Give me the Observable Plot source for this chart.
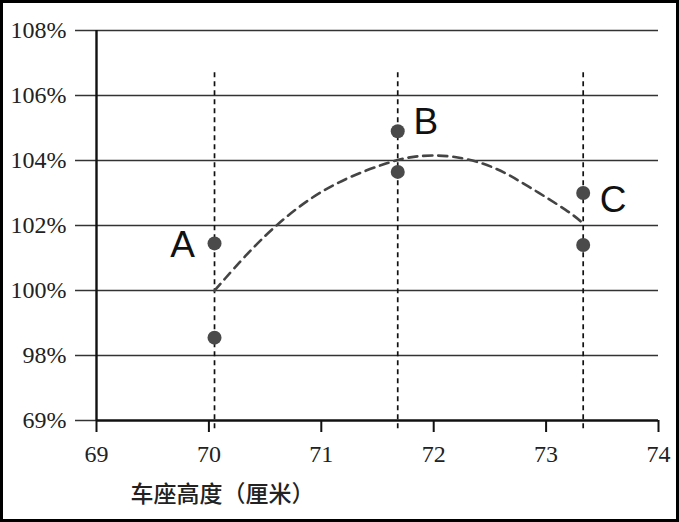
<!DOCTYPE html>
<html>
<head>
<meta charset="utf-8">
<script src="https://cdn.jsdelivr.net/npm/d3@7"></script>
<script src="https://cdn.jsdelivr.net/npm/@observablehq/plot@0.6"></script>
<style>
  html, body { margin: 0; padding: 0; background: #fff; }
  #chart svg { display: block; outline: 3px solid #000; outline-offset: -3px; background: #fff; }
</style>
</head>
<body>
<div id="chart"></div>
<script>
// ---- data ----
const groups = ["A", "B", "C"];
const groupX = [70.05, 71.68, 73.33];
const upperY = [101.45, 104.9, 103.0];
const lowerY = [98.55, 103.65, 101.4];

const curveX = [70.05, 70.13, 70.31, 70.57, 70.90, 71.23, 71.59, 71.82, 72.15, 72.53, 72.83, 73.22, 73.33];
const curveY = [100.0, 100.31, 101.02, 101.94, 102.86, 103.48, 103.94, 104.15, 104.18, 103.85, 103.23, 102.4, 102.06];

const xTicks = [69, 70, 71, 72, 73, 74];
const yTicks = [96, 98, 100, 102, 104, 106, 108];
const yTickLabels = ["69%", "98%", "100%", "102%", "104%", "106%", "108%"];
const xTitle = "车座高度（厘米）";

// ---- derived tables ----
const points = groups.flatMap((g, i) => [
  {g, x: groupX[i], y: upperY[i]},
  {g, x: groupX[i], y: lowerY[i]}
]);
const labelRows = groups.map((g, i) => ({g, x: groupX[i], y: upperY[i]}));
const curve = curveX.map((x, i) => ({x, y: curveY[i]}));
const yLabelOf = new Map(yTicks.map((v, i) => [v, yTickLabels[i]]));
const labelOffset = {A: [-32, 2], B: [28, -9], C: [30, 7]};

const chart = Plot.plot({
  width: 679,
  height: 522,
  marginLeft: 96,
  marginRight: 21,
  marginTop: 30,
  marginBottom: 102,
  style: {fontFamily: "'Liberation Serif', 'DejaVu Serif', serif", fontSize: "24px", color: "#222", background: "#fff"},
  x: {domain: [69, 74]},
  y: {domain: [96, 108]},
  marks: [
    Plot.ruleY(yTicks.filter(d => d !== 96), {stroke: "#333", strokeWidth: 1.5}),
    Plot.axisY({ticks: yTicks, tickFormat: d => yLabelOf.get(d), tickSize: 21, tickPadding: 9, strokeWidth: 1.5, stroke: "#333", label: null, fontSize: 24}),
    Plot.axisX({ticks: xTicks, tickFormat: d => String(d), tickSize: 12, tickPadding: 12, strokeWidth: 2, stroke: "#111", label: null, fontSize: 24}),
    Plot.ruleY([96], {stroke: "#111", strokeWidth: 2.4}),
    Plot.ruleX([69], {y1: 108, y2: 96, stroke: "#111", strokeWidth: 2.4}),
    Plot.ruleX(groupX, {y1: 106.7, y2: 95.62, stroke: "#111", strokeWidth: 1.7, strokeDasharray: "5,4", clip: false}),
    Plot.line(curve, {x: "x", y: "y", curve: "basis", stroke: "#444", strokeWidth: 2.6, strokeDasharray: "9,6"}),
    Plot.dot(points, {x: "x", y: "y", r: 7, fill: "#4a4a4a", stroke: "none"}),
    ...groups.map(g => Plot.text(labelRows.filter(d => d.g === g), {
      x: "x", y: "y", text: "g",
      dx: labelOffset[g][0], dy: labelOffset[g][1],
      lineAnchor: "middle",
      fontFamily: "'Liberation Sans', Arial, sans-serif", fontSize: 37, fill: "#111"
    })),
    Plot.text([xTitle], {
      frameAnchor: "bottom-left", text: d => d, dx: 34, dy: 81,
      textAnchor: "start",
      fontFamily: "'Noto Sans CJK SC', sans-serif", fontSize: 23, fontWeight: 500, fill: "#222"
    })
  ]
});
document.getElementById("chart").appendChild(chart);
</script>
</body>
</html>
